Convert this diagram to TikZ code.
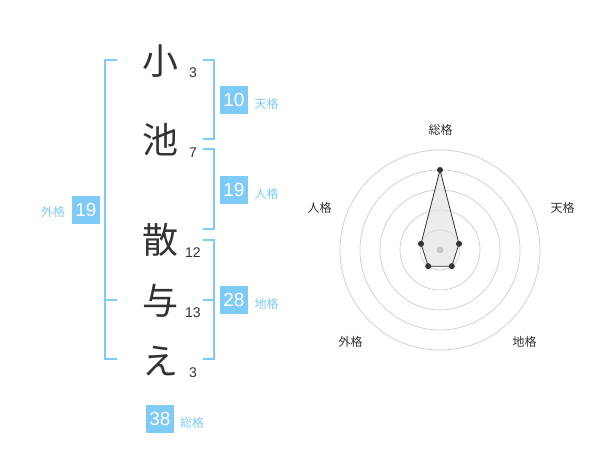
\documentclass[tikz,border=0pt]{standalone}
\usepackage{fontspec}
\setmainfont{Liberation Sans}
\newfontfamily\jp{Noto Sans CJK JP}
\definecolor{kaku}{HTML}{7FCBF8}
\definecolor{ink}{HTML}{333333}
\tikzset{
  kanji/.style={font=\jp\fontsize{36}{36}\selectfont, text=ink, inner sep=0pt},
  strokes/.style={font=\fontsize{14}{14}\selectfont, text=ink, inner sep=0pt},
  kakubox/.style={fill=kaku, text=white, minimum size=28pt, inner sep=0pt, font=\fontsize{19}{19}\selectfont},
  kakuname/.style={text=kaku, font=\jp\fontsize{12}{12}\selectfont, inner sep=0pt},
  bracket/.style={draw=kaku, line width=2pt},
  ring/.style={draw=black!20, line width=0.7pt},
  axisname/.style={font=\jp\fontsize{12}{12}\selectfont, text=ink, inner sep=0pt},
  dot/.style={circle, fill=ink, inner sep=0pt, minimum size=6pt},
}
\begin{document}
\begin{tikzpicture}[x=1pt,y=-1pt]
\useasboundingbox (0,0) rectangle (600,470);
% name
\node[kanji] (k1) at (160,61) {小};
\node[kanji] (k2) at (160,140) {池};
\node[kanji] (k3) at (160,240) {散};
\node[kanji] (k4) at (160,301) {与};
\node[kanji] (k5) at (160,361) {え};
\node[strokes] (s1) at (193,73) {3};
\node[strokes] (s2) at (193,153) {7};
\node[strokes] (s3) at (193,253) {12};
\node[strokes] (s4) at (193,313) {13};
\node[strokes] (s5) at (193,373) {3};
%
\draw[bracket] (117,60) -- (105,60) -- (105,359) -- (117,359);
\draw[bracket] (105,300) -- (117,300);
\draw[bracket] (203,60) -- (214,60) -- (214,139) -- (203,139);
\draw[bracket] (203,149) -- (214,149) -- (214,229) -- (203,229);
\draw[bracket] (203,240) -- (214,240) -- (214,359) -- (203,359);
\draw[bracket] (203,300) -- (214,300);
%
\node[kakubox] (ten) at (234,100) {10};
\node[kakuname] (tenl) at (266.5,104) {天格};
\node[kakubox] (jin) at (234,190) {19};
\node[kakuname] (jinl) at (266.5,194) {人格};
\node[kakubox] (chi) at (234,300) {28};
\node[kakuname] (chil) at (266.5,304) {地格};
\node[kakubox] (gai) at (86,210) {19};
\node[kakuname] (gail) at (53,212) {外格};
\node[kakubox] (sou) at (160,419) {38};
\node[kakuname] (soul) at (192,423) {総格};
% chart
\coordinate (c) at (440,250);
\foreach \r in {20,40,...,100}
  \draw[ring] (c) circle[radius=\r];
\node[axisname] (a1) at (440.5,130) {総格};
\node[axisname] (a2) at (562.5,208) {天格};
\node[axisname] (a3) at (524.5,342) {地格};
\node[axisname] (a4) at (350.5,342) {外格};
\node[axisname] (a5) at (319.5,208) {人格};
\coordinate (p1) at (440,170);
\coordinate (p2) at (459,243.8);
\coordinate (p3) at (451.8,266.2);
\coordinate (p4) at (428.2,266.2);
\coordinate (p5) at (421,243.8);
\fill[black!12, opacity=0.6] (p1) -- (p2) -- (p3) -- (p4) -- (p5) -- cycle;
\draw[ink, line width=0.8pt] (p1) -- (p2) -- (p3) -- (p4) -- (p5) -- cycle;
\foreach \p in {p1,p2,p3,p4,p5}
  \node[dot] (d\p) at (\p) {};
\node[circle, fill=black!22, inner sep=0pt, minimum size=7pt] (mid) at (c) {};
\end{tikzpicture}
\end{document}
